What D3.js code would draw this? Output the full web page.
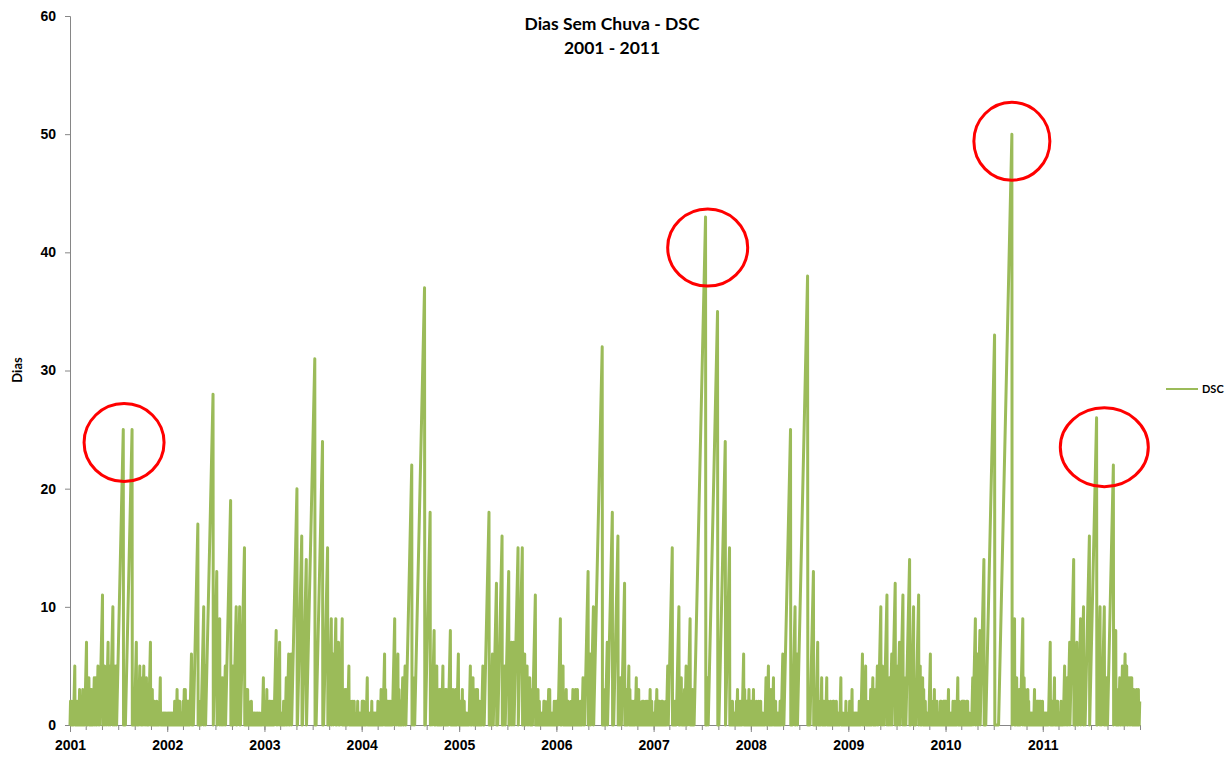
<!DOCTYPE html>
<html>
<head>
<meta charset="utf-8">
<script src="https://cdn.jsdelivr.net/npm/d3@7"></script>
<style>
  body { margin: 0; background: #fff; }
  svg { display: block; font-family: Lato, "Open Sans", "Liberation Sans", sans-serif; }
</style>
</head>
<body>
<svg id="chart" width="1231" height="761"></svg>
<script>
// Dry spells of each year, in order. Each entry is one rainy day (counter = 0)
// followed by that many consecutive dry days (counter 1, 2, ... n); 0 is a rainy day alone.
const dsc2001 = [2,2,1, 1,2,5, 2,2,2,1, 2,3,2, 1,2,3, 2,2,7, 3,4,2, 3,3,3, 4,4,2, 5, 4,11, 1,5, 4,7, 5, 0,10, 5,0,5, 25, 0,0,0,0,0,0,0,25, 3,3,7, 3,2,5, 4,3,5, 4,4, 3,2,7, 2,3,1, 2,2, 1,1,1,2, 1,1,0,1, 0,4, 1,1,1,1,1, 1,1,1,1,1, 1,1,0];
const dsc2002 = [1,1, 1,1,1, 1,1,1,1, 1,1,1,1,2, 1,2,3, 1,1,2,2, 1,1,1,1,1, 2,3,3, 1,1,2,2, 2,2,6, 2,2,17, 2,2,2, 1,10, 5,28, 13, 0,9, 4,4,4, 5,19, 2,5, 0,10, 1,10, 1,15, 3,3,3, 2,1,1,1,1,2, 1,1,1,1, 1,1,1, 1,0,1, 1,1,1, 1,0,1, 1,1,0,1, 1,0,4, 2];
const dsc2003 = [1,1, 1,3, 2,1, 1,2, 2,1, 1,2, 1,1,1,8, 4,7, 1,1,1, 1,1,1, 2,0,1, 1,4, 1,6, 2,6, 20, 0,16, 1,14, 31, 3,24, 2,15, 3,9, 6,9, 1,7, 3,9, 3,2,3, 3,3,5, 2,2,1, 1,2,1, 1,2,1, 1,0,1, 1,0,2, 1,1,1, 1,1,0,1, 0];
const dsc2004 = [2,2,2, 1,1,1,1,4, 1,1,1, 1,1,1, 1,2,1, 1,1,1, 1,1,1, 1,1,1,2, 1,1,1,1,3, 2,2,6, 3,2,1,2, 1,2,1, 2,1,1, 1,9, 4,6, 3,2,2, 2,4, 2,5, 1,22, 4,4,37, 1,18, 5,8, 3,5, 3,1,3, 3,2,5, 2,2,3, 3,1, 2,8, 2,2,3, 2,2,3, 2,6, 1];
const dsc2005 = [1,2,1, 1,3, 1,1,2,1, 1,1,1,1, 1,1,1, 0,5, 1,2,4, 3,2,1,3, 3,2,1,2, 1,1,1, 5, 3,18, 2,2,6, 1,12, 3,16, 3,5, 0,13, 2,7, 7, 15, 15, 1,6, 2,5, 4,4, 3,3, 0,11, 2,2,3, 1,2,1, 0,0,0,0,1, 1,1,1, 2,2, 1,1,1,1, 2,3,3, 1,1,1,1,1, 1,1,2,1, 1,2];
const dsc2006 = [2,2,9, 3,5, 1,1,1, 1,3, 2,1, 2,1, 1,1,1,2, 1,3, 2,2,3, 2,3,1, 1,1,1,2, 1,2,4, 4,13, 0,6, 0,10, 32, 0,0,0,0,2,3,7, 18, 3,16, 4,4, 1,12, 3,3, 1,5, 3,2,2, 2,1,1, 2,2,4, 2,1,3, 2,1,1, 1,1,2, 1,2,1, 1,1,2, 1,2,1, 1,1,3, 2,2,1, 1,1];
const dsc2007 = [1,1,1, 2,3, 1,1,2,2, 1,1,1, 2,2, 1,1,1, 1,2, 1,5, 0,15, 2,1, 1,2,2, 0,10, 3,4, 1,2,2, 3,5, 4,9, 2,2,3, 3,43, 0,0,0,4,0,35, 0,0,0,0,24, 15, 1,1,1,1,2, 1,1,1,1, 1,1,2,3, 2,2,1, 2,1,1, 0,6, 3,2,2, 2,2,3, 2,2];
const dsc2008 = [2,1, 1,3, 1,1,1,1,2, 1,1,1, 2,1, 1,2,1, 1,1,1, 1,1,1, 0,4, 2,5, 2,2,3, 3,4, 2,1,2,1, 1,1,1,1, 1,1,2, 2,6, 2,25, 0,0,0,0,0,0,10, 0,6, 38, 0,0,0,0,0,0,0,0,13, 3,3,7, 2,1, 1,2,4, 2,2,2, 1,2,4, 2,2,1, 1,1,2, 1,1,1, 2,2, 1,1,1,2, 1,1,1,1, 1,1,4, 1,1,1,1, 1,0,0,0,0,1, 2,1,1,1,1];
const dsc2009 = [0,1, 2,2, 1,3, 1,1,1,1, 1,1,1,1, 1,1,1, 1,2,1, 2,6, 2,2,5, 2,2,1, 1,1,2, 3,2,4, 3,2, 3,5, 1,10, 5,4, 11, 4,4, 0,6, 12, 5,1,7, 0,11, 4,4,14, 3,10, 3,2, 11, 5,3, 4,3, 2,2,1,1, 1,1,1,1,6, 2,2,1, 2,3, 1,2,1, 2,1,1, 1,1,1, 2,2, 1,1,1,2, 2,2];
const dsc2010 = [2,1, 2,3, 1,1,1,1,1, 1,1,2,1, 1,2,1, 1,1,4, 1,2,1, 1,1,1, 2,2, 2,2, 1,1,1, 2,2, 1,1,1,1, 0,0,0,0,1, 4,9, 0,6, 8, 14, 0,0,0,0,0,0,33, 0,0,0,0,0,0,0,0,0,0,0,0,0,0,50, 9, 2,4, 2,2,3, 2,9, 4,3, 2,2,3, 2,1,1, 1,1,1, 1,1,1, 1,3, 1,1,1, 2,2, 2,1, 2,2, 1,1,2];
const dsc2011 = [0,1, 1,1,1,1, 1,1,1,1, 1,7, 1,1,2,1, 1,4, 1,1,1, 2,2, 1,1,1, 1,1,2, 1,1,1, 0,5, 4,4, 0,7, 14, 3,7, 3,9, 10, 4,16, 26, 1,10, 4,10, 2,4, 0,0,0,22, 8, 2,2, 3,4, 3,5, 2,6, 5,3, 4,4, 4,3, 3,2,2, 3,2,3, 1,2];

const years = [2001, 2002, 2003, 2004, 2005, 2006, 2007, 2008, 2009, 2010, 2011];
const spellsByYear = [dsc2001, dsc2002, dsc2003, dsc2004, dsc2005, dsc2006, dsc2007, dsc2008, dsc2009, dsc2010, dsc2011];

const yTicks = [0, 10, 20, 30, 40, 50, 60];
const seriesName = "DSC";
const titleLines = ["Dias Sem Chuva - DSC", "2001 - 2011"];
const yTitle = "Dias";

// Circled peaks: [year, day of year, value, rx, ry]
const highlights = [
  [2001, 204, 23.9, 40, 39],
  [2007, 204, 40.4, 40, 38.5],
  [2010, 250, 49.4, 38, 39],
  [2011, 232, 23.5, 44, 39.5]
];

const DAY = 864e5;
const dayDate = (year, doy) => new Date(Date.UTC(year, 0, 1) + (doy - 1) * DAY);

// Polyline vertices of the daily counter: 0 on each rainy day, n on the last dry day of a spell.
const points = [];
years.forEach((year, i) => {
  let day = 1;
  spellsByYear[i].forEach(len => {
    points.push({ date: dayDate(year, day), v: 0 });
    if (len > 0) points.push({ date: dayDate(year, day + len), v: len });
    day += len + 1;
  });
});

const svg = d3.select("#chart");
const plot = { left: 70, right: 1140, top: 16, bottom: 725 };

const x = d3.scaleUtc()
  .domain([new Date(Date.UTC(2001, 0, 1)), new Date(Date.UTC(2012, 0, 1))])
  .range([plot.left, plot.right]);
const y = d3.scaleLinear().domain([0, 60]).range([plot.bottom, plot.top]);

const axisColor = "#868686";

// Y axis
const yAxis = svg.append("g")
  .attr("transform", `translate(${plot.left},0)`)
  .call(d3.axisLeft(y).tickValues(yTicks).tickSize(5).tickPadding(9));
yAxis.select(".domain").attr("stroke", axisColor);
yAxis.selectAll(".tick line").attr("stroke", axisColor);
yAxis.selectAll(".tick text")
  .attr("fill", "#000").style("font-size", "14px").style("font-weight", "bold");

// X axis: minor ticks every two months, year ticks with labels
const xMinor = svg.append("g")
  .attr("transform", `translate(0,${plot.bottom})`)
  .call(d3.axisBottom(x).ticks(d3.utcMonth.every(2)).tickSize(5).tickFormat(""));
xMinor.select(".domain").attr("stroke", axisColor);
xMinor.selectAll(".tick line").attr("stroke", axisColor);

const xMajor = svg.append("g")
  .attr("transform", `translate(0,${plot.bottom})`)
  .call(d3.axisBottom(x)
    .tickValues(years.map(yr => new Date(Date.UTC(yr, 0, 1))))
    .tickSize(7).tickPadding(8)
    .tickFormat(d3.utcFormat("%Y")));
xMajor.select(".domain").remove();
xMajor.selectAll(".tick line").attr("stroke", axisColor);
xMajor.selectAll(".tick text")
  .attr("fill", "#000").style("font-size", "14px").style("font-weight", "bold");

// Series
svg.append("path")
  .datum(points)
  .attr("fill", "none")
  .attr("stroke", "#9BBB59")
  .attr("stroke-width", 3)
  .attr("stroke-linejoin", "round")
  .attr("d", d3.line().x(d => x(d.date)).y(d => y(d.v)));

// Highlight circles
svg.append("g").selectAll("ellipse")
  .data(highlights)
  .join("ellipse")
  .attr("cx", d => x(dayDate(d[0], d[1])))
  .attr("cy", d => y(d[2]))
  .attr("rx", d => d[3])
  .attr("ry", d => d[4])
  .attr("fill", "none")
  .attr("stroke", "#FF0000")
  .attr("stroke-width", 3);

// Title
titleLines.forEach((t, i) => {
  svg.append("text")
    .attr("x", 612).attr("y", 30 + i * 24)
    .attr("text-anchor", "middle")
    .style("font-size", "17.5px").style("font-weight", "bold")
    .text(t);
});

// Y axis title
svg.append("text")
  .attr("transform", "translate(22,370) rotate(-90)")
  .attr("text-anchor", "middle")
  .style("font-size", "13px").style("font-weight", "bold")
  .text(yTitle);

// Legend
const legend = svg.append("g").attr("transform", "translate(1166,389)");
legend.append("line")
  .attr("x1", 0).attr("x2", 32).attr("y1", 0).attr("y2", 0)
  .attr("stroke", "#9BBB59").attr("stroke-width", 2);
legend.append("text")
  .attr("x", 36).attr("y", 4)
  .style("font-size", "11px").style("font-weight", "bold")
  .text(seriesName);
</script>
</body>
</html>
